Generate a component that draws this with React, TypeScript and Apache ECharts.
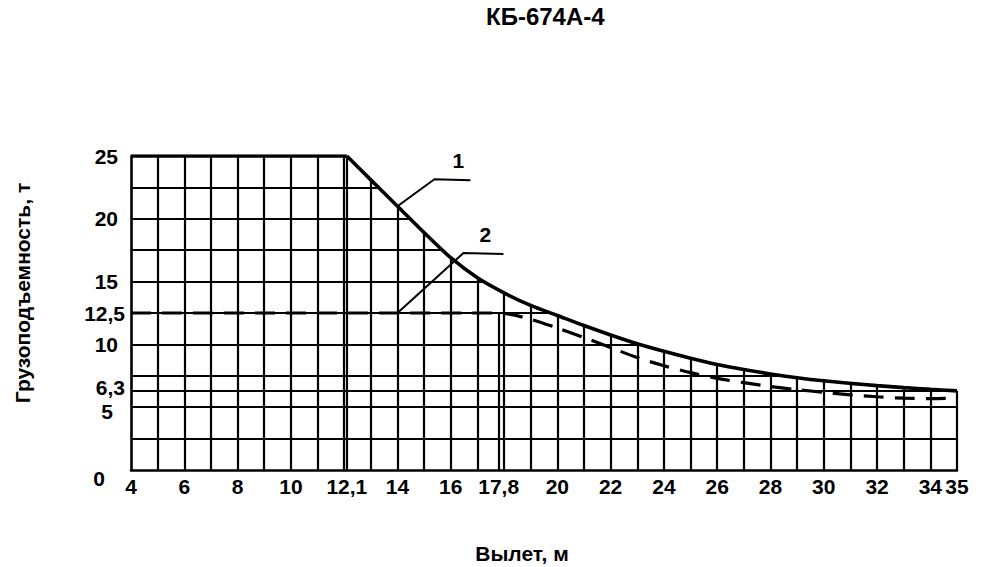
import React, { useEffect, useRef } from 'react';
import * as echarts from 'echarts';

// ---- data ----
const chartTitle = 'КБ-674А-4';
const xName = 'Вылет, м';
const yName = 'Грузоподъемность, т';

const X_MIN = 4;
const X_MAX = 35;
const Y_MIN = 0;
const Y_MAX = 25;

const xLabelValues = [4, 6, 8, 10, 12.1, 14, 16, 17.8, 20, 22, 24, 26, 28, 30, 32, 34, 35];
const yLabelValues = [0, 5, 6.3, 10, 12.5, 15, 20, 25];

// grid lines (vertical lines are cut off by curve 1)
const gridX = [5, 6, 7, 8, 9, 10, 11, 12, 12.1, 13, 14, 15, 16, 17, 18, 19, 20, 21, 22, 23, 24, 25, 26, 27, 28, 29, 30, 31, 32, 33, 34];
const gridY = [2.5, 5, 6.3, 7.5, 10, 12.5, 15, 17.5, 20, 22.5];

// curve 1 (solid)
const curve1: [number, number][] = [
  [4, 25], [12.1, 25], [13, 23.1], [14, 21.0], [15, 18.9], [16, 16.9], [17, 15.3],
  [18, 14.1], [19, 13.1], [20, 12.3], [21, 11.5], [22, 10.75], [23, 10.05], [24, 9.45],
  [25, 8.9], [26, 8.4], [27, 8.0], [28, 7.65], [29, 7.35], [30, 7.1], [31, 6.9],
  [32, 6.72], [33, 6.56], [34, 6.42], [35, 6.3],
];

// curve 2 (dashed)
const curve2: [number, number][] = [
  [4, 12.5], [17.8, 12.5], [19, 12.0], [20, 11.3], [21, 10.55], [22, 9.75], [23, 8.95],
  [24, 8.3], [25, 7.75], [26, 7.3], [27, 6.95], [28, 6.65], [29, 6.4], [30, 6.18],
  [31, 5.98], [32, 5.83], [33, 5.72], [34, 5.68], [35, 5.72],
];

const curveLabels = ['1', '2'];
const leaderAnchorX = 14;

const FONT = '"Liberation Sans", Arial, Helvetica, sans-serif';
const fmt = (v: number) => String(v).replace('.', ',');

export default function App() {
  const ref = useRef<HTMLDivElement>(null);

  useEffect(() => {
    const chart = echarts.init(ref.current!, null, { renderer: 'svg' });

    const markData: any[] = [];
    gridX.forEach((x) => markData.push([{ coord: [x, Y_MIN] }, { coord: [x, Y_MAX] }]));
    gridY.forEach((y) => markData.push([{ coord: [X_MIN, y] }, { coord: [X_MAX, y] }]));
    // 17.8 line up to the break of curve 2
    const brk = curve2[1];
    markData.push([{ coord: [brk[0], Y_MIN] }, { coord: [brk[0], brk[1]] }]);
    // right edge up to end of curve 1
    const last = curve1[curve1.length - 1];
    markData.push([{ coord: [last[0], Y_MIN] }, { coord: [last[0], last[1]] }]);

    const labelStyle = { fontFamily: FONT, fontSize: 21, fontWeight: 'bold' as const, color: '#000' };

    const curve1Line = { color: '#000', width: 3.6 };
    const mask = { color: '#fff', opacity: 1, origin: 'end' as const };

    chart.setOption({
      animation: false,
      backgroundColor: '#fff',
      title: {
        text: chartTitle,
        left: 481,
        top: -1,
        textStyle: { fontFamily: FONT, fontSize: 24, fontWeight: 'bold', color: '#000' },
      },
      grid: { left: 131, right: 31, top: 156, bottom: 97, containLabel: false },
      xAxis: {
        type: 'value',
        min: X_MIN,
        max: X_MAX,
        interval: 1,
        axisLine: { show: true, lineStyle: { color: '#000', width: 2.6 } },
        axisTick: { show: false },
        splitLine: { show: false },
        axisLabel: {
          customValues: xLabelValues,
          formatter: (v: number) => fmt(v),
          margin: 6,
          ...labelStyle,
        },
      },
      yAxis: {
        type: 'value',
        min: Y_MIN,
        max: Y_MAX,
        interval: 2.5,
        axisLine: { show: true, lineStyle: { color: '#000', width: 2.6 } },
        axisTick: { show: false },
        splitLine: { show: false },
        axisLabel: {
          customValues: yLabelValues,
          margin: 6,
          ...labelStyle,
          formatter: (v: number) => {
            const s = fmt(v);
            if (v === 0) return `{z|${s}}`;
            if (v === 12.5) return `{w|${s}}`;
            if (v === 6.3) return `{s|${s}}`;
            if (v === 5) return `{f|${s}}`;
            return `{n|${s}}`;
          },
          rich: {
            n: { ...labelStyle, padding: [0, 7, 0, 0] },
            w: { ...labelStyle },
            s: { ...labelStyle, padding: [0, 0, 6, 0] },
            f: { ...labelStyle, padding: [8, 12, 0, 0] },
            z: { ...labelStyle, padding: [16, 20, 0, 0] },
          },
        },
      },
      series: [
        {
          name: 'grid',
          type: 'line',
          data: [],
          z: 1,
          silent: true,
          markLine: {
            z: 1,
            silent: true,
            symbol: ['none', 'none'],
            label: { show: false },
            lineStyle: { color: '#000', width: 2.2, type: 'solid' },
            emphasis: { disabled: true },
            data: markData,
          },
        },
        {
          name: '1',
          type: 'line',
          data: curve1.slice(0, 2),
          z: 3,
          symbol: 'none',
          silent: true,
          lineStyle: curve1Line,
        },
        {
          name: '1',
          type: 'line',
          data: curve1.slice(1),
          z: 3,
          symbol: 'none',
          silent: true,
          smooth: 0.3,
          lineStyle: curve1Line,
          areaStyle: mask,
        },
        {
          name: '2',
          type: 'line',
          data: curve2,
          z: 4,
          symbol: 'none',
          silent: true,
          smooth: 0.3,
          lineStyle: { color: '#000', width: 3.2, type: [20, 11] },
        },
      ],
    });

    const px = (pt: number[]) => chart.convertToPixel({ gridIndex: 0 }, pt) as number[];
    const c1 = curve1.find((d) => d[0] === leaderAnchorX)!;
    const a1 = px([leaderAnchorX, c1[1]]);
    const a2 = px([leaderAnchorX, curve2[0][1]]);

    const textFont = (size: number) => `bold ${size}px ${FONT}`;

    chart.setOption({
      graphic: [
        {
          type: 'polyline',
          z: 10,
          shape: { points: [a1, [a1[0] + 37, a1[1] - 27], [a1[0] + 73, a1[1] - 26]] },
          style: { stroke: '#000', lineWidth: 2, fill: null },
        },
        {
          type: 'text',
          z: 10,
          x: a1[0] + 61,
          y: a1[1] - 46,
          style: { text: curveLabels[0], font: textFont(21), fill: '#000', align: 'center', verticalAlign: 'middle' },
        },
        {
          type: 'polyline',
          z: 10,
          shape: { points: [a2, [a2[0] + 66, a2[1] - 60], [a2[0] + 106, a2[1] - 59]] },
          style: { stroke: '#000', lineWidth: 2, fill: null },
        },
        {
          type: 'text',
          z: 10,
          x: a2[0] + 88,
          y: a2[1] - 79,
          style: { text: curveLabels[1], font: textFont(21), fill: '#000', align: 'center', verticalAlign: 'middle' },
        },
        {
          type: 'text',
          z: 10,
          x: 22,
          y: 293,
          rotation: Math.PI / 2,
          style: { text: yName, font: textFont(21), fill: '#000', align: 'center', verticalAlign: 'middle' },
        },
        {
          type: 'text',
          z: 10,
          x: 522,
          y: 553,
          style: { text: xName, font: textFont(21), fill: '#000', align: 'center', verticalAlign: 'middle' },
        },
      ],
    });

    return () => chart.dispose();
  }, []);

  return (
    <div
      ref={ref}
      style={{ position: 'absolute', left: 0, top: 0, width: 988, height: 567, background: '#fff' }}
    />
  );
}
